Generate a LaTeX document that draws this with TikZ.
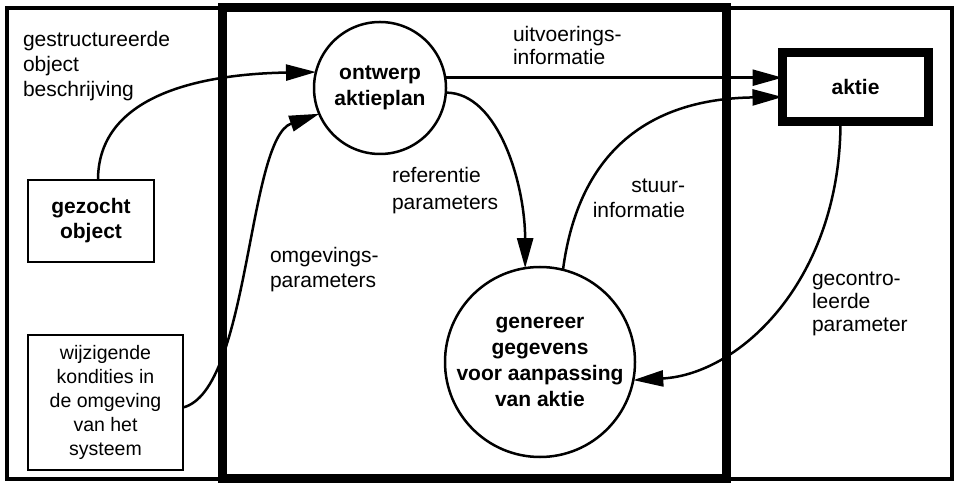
\documentclass[tikz,border=0pt]{standalone}
\usepackage{fontspec}
\setmainfont{Liberation Sans}
\usetikzlibrary{arrows.meta}
\begin{document}
\begin{tikzpicture}[x=1pt,y=1pt,
  every node/.style={inner sep=0pt, outer sep=0pt},
  lbl/.style={font=\fontsize{21}{25}\selectfont},
  proc/.style={circle, draw, line width=2.5pt, font=\bfseries\fontsize{21}{26}\selectfont, align=center},
  ext/.style={draw, rectangle, align=center},
  flow/.style={line width=2.5pt, -{Triangle[length=30pt,width=16pt]}}]
\useasboundingbox (0,0) rectangle (957,484);
% frames
\draw[line width=3.5pt] (7,5) rectangle (952,476);
\draw[line width=9pt] (222,6) rectangle (726,476);
% terminators and processes
\node[ext, line width=2pt, minimum width=126pt, minimum height=82pt,
      font=\bfseries\fontsize{21}{25}\selectfont] (obj) at (91,263) {gezocht\\object};
\node[ext, line width=2pt, minimum width=155pt, minimum height=135pt,
      font=\fontsize{19.5}{24}\selectfont] (cond) at (105.5,81.5)
      {wijzigende\\kondities in\\de omgeving\\van het\\systeem};
\node[ext, line width=9pt, minimum width=146pt, minimum height=69pt,
      font=\bfseries\fontsize{21}{25}\selectfont] (act) at (855.5,397) {aktie};
\node[proc, minimum size=132pt] (plan) at (380,396) {ontwerp\\aktieplan};
\node[proc, minimum size=190pt] (gen) at (540,122) {genereer\\gegevens\\voor aanpassing\\van aktie};
% flows
\draw[flow] ([xshift=7pt]obj.north) .. controls +(0,86) and +(-113,-2) .. (plan.166);
\draw[flow] ([yshift=-5pt]cond.east) .. controls +(67,17) and +(-72,-25) .. (plan.203);
\draw[flow] (plan.9) -- (plan.9 -| act.west);
\draw[flow] (plan.-4) .. controls +(53,0) and +(0,83) .. (gen.99);
\draw[flow] (gen.76) .. controls +(15,114) and +(-138,-2) .. ([yshift=-10pt]act.west);
\draw[flow] ([xshift=-15pt]act.south) .. controls +(0,-158) and +(107,6) .. (gen.-11);
% flow labels (anchored at the baseline of the last line)
\node[lbl, align=left, anchor=base west] (l1) at (23,387) {gestructureerde\\object\\beschrijving};
\node[lbl, align=left, anchor=base west, font=\fontsize{21}{23}\selectfont] (l2) at (513,419) {uitvoerings-\\informatie};
\node[lbl, align=left, anchor=base west, font=\fontsize{21}{27}\selectfont] (l3) at (392,274) {referentie\\parameters};
\node[lbl, align=left, anchor=base west] (l4) at (270,196) {omgevings-\\parameters};
\node[lbl, align=right, anchor=base east] (l5) at (685,266) {stuur-\\informatie};
\node[lbl, align=left, anchor=base west, font=\fontsize{21}{23}\selectfont] (l6) at (812,152) {gecontro-\\leerde\\parameter};
\end{tikzpicture}
\end{document}
